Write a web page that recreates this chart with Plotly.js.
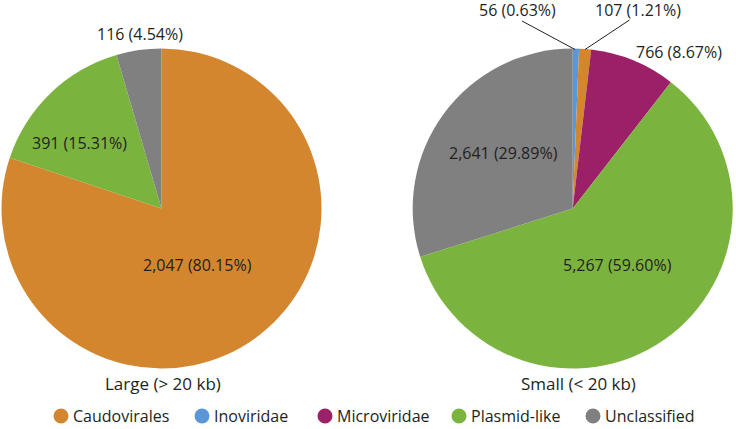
<!DOCTYPE html>
<html>
<head>
<meta charset="utf-8">
<script src="https://cdn.plot.ly/plotly-3.0.1.min.js"></script>
<style>html,body{margin:0;padding:0;background:#fff;}#chart{width:736px;height:429px;}</style>
</head>
<body>
<div id="chart"></div>
<script>
// ---- data ----
const categories = ["Caudovirales", "Inoviridae", "Microviridae", "Plasmid-like", "Unclassified"];
const largeLabels = ["Caudovirales", "Plasmid-like", "Unclassified"];
const largeValues = [2047, 391, 116];
const smallLabels = ["Inoviridae", "Caudovirales", "Microviridae", "Plasmid-like", "Unclassified"];
const smallValues = [56, 107, 766, 5267, 2641];
const pieTitles = ["Large (> 20 kb)", "Small (< 20 kb)"];

// ---- styles / layout positions (pixels) ----
const colorMap = {
  "Caudovirales": "#D3862E",
  "Inoviridae": "#5B96D6",
  "Microviridae": "#9C2068",
  "Plasmid-like": "#7AB43E",
  "Unclassified": "#808080"
};
const W = 736, H = 429;
const px = x => x / W;
const py = y => 1 - y / H;
const largeLabelPos = [[197.5, 265], [79.5, 143], [140, 34]];
const smallLabelPos = [[517.5, 10], [637.5, 10], [678.5, 52], [617, 265], [503, 153]];
const leaderLines = {small: {0: [[522, 21], [575, 49.5]], 1: [[629.5, 20], [585, 49.5]]}};
const titlePos = [[162.5, 383], [578, 383]];
const legendCircleX = [61, 202, 325, 459, 593];
const legendY = 416;
const FONT = "Open Sans, sans-serif";
const TXT = "#231F20";

const fmt = v => v.toLocaleString("en-US");
function labelTexts(values) {
  const total = values.reduce((a, b) => a + b, 0);
  return values.map(v => fmt(v) + " (" + (100 * v / total).toFixed(2) + "%)");
}

const pieCommon = {
  type: "pie", sort: false, direction: "clockwise", rotation: 0,
  textinfo: "none", hoverinfo: "label+value+percent", showlegend: false
};
const traces = [
  Object.assign({}, pieCommon, {
    labels: largeLabels, values: largeValues,
    marker: {colors: largeLabels.map(l => colorMap[l]), line: {width: 0}},
    domain: {x: [px(1.5), px(321.5)], y: [py(368.5), py(48.5)]}
  }),
  Object.assign({}, pieCommon, {
    labels: smallLabels, values: smallValues,
    marker: {colors: smallLabels.map(l => colorMap[l]), line: {width: 0}},
    domain: {x: [px(412.7), px(732.7)], y: [py(368.5), py(48.5)]}
  })
];

const annotations = [];
const shapes = [];
const addLabel = (t, x, y, anchor, size) => annotations.push({
  text: t, x: px(x), y: py(y), xref: "paper", yref: "paper",
  xanchor: anchor || "center", yanchor: "middle", showarrow: false,
  font: {family: FONT, size: size || 16, color: TXT}
});
labelTexts(largeValues).forEach((t, i) => addLabel(t, largeLabelPos[i][0], largeLabelPos[i][1]));
labelTexts(smallValues).forEach((t, i) => addLabel(t, smallLabelPos[i][0], smallLabelPos[i][1]));
Object.keys(leaderLines.small).forEach(k => {
  const [[x0, y0], [x1, y1]] = leaderLines.small[k];
  shapes.push({type: "line", xref: "paper", yref: "paper", x0: px(x0), y0: py(y0), x1: px(x1), y1: py(y1),
    line: {color: "#222", width: 1}});
});
pieTitles.forEach((t, i) => addLabel(t, titlePos[i][0], titlePos[i][1], "center", 17));

// legend (circles + text)
categories.forEach((c, i) => {
  shapes.push({type: "circle", xref: "paper", yref: "paper", xsizemode: "pixel", ysizemode: "pixel",
    xanchor: px(legendCircleX[i]), yanchor: py(legendY),
    x0: -7.5, x1: 7.5, y0: -7.5, y1: 7.5,
    fillcolor: colorMap[c], line: {width: 0}});
  addLabel(c, legendCircleX[i] + 10, legendY, "left", 16);
});

const layout = {
  width: W, height: H,
  margin: {l: 0, r: 0, t: 0, b: 0},
  paper_bgcolor: "#fff",
  font: {family: FONT, size: 16, color: TXT},
  showlegend: false,
  annotations: annotations,
  shapes: shapes
};
Plotly.newPlot("chart", traces, layout, {displayModeBar: false, staticPlot: true});
</script>
</body>
</html>
